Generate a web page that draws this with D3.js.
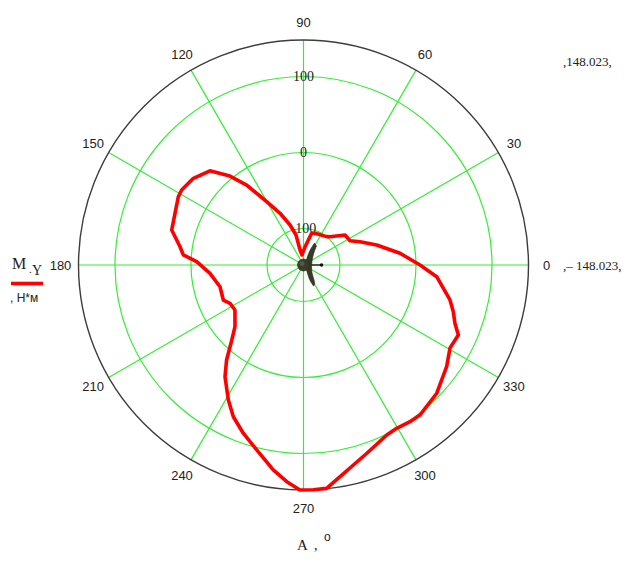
<!DOCTYPE html>
<html><head><meta charset="utf-8">
<script src="https://cdn.jsdelivr.net/npm/d3@7"></script>
<style>body{margin:0;background:#fff}svg{display:block}</style>
</head><body>
<svg id="c" width="639" height="568"></svg>
<script>
const angleDeg = [0,6.9,15.3,22.4,27.6,35.9,46.9,50.7,70,75.6,85,98.5,103,104,108.6,114.4,120.2,125.4,129.6,134.8,141.8,148.4,151.4,158.1,165.1,171.6,175.2,178.2,185.1,194.6,203.6,207.5,213.3,222,226.3,231,234.9,240.9,245.2,250.3,255.8,261.6,265.6,269.1,272.5,275.9,279.8,284,288.6,296.1,299.7,304.2,307.8,316.1,324.6,330.5,335.7,339,342.7,346.6,355,360];
const momentY  = [5.3,-20.1,-48.2,-67.6,-79,-80.6,-97,-99.8,-103.7,-104.6,-123.8,-134.7,-127.8,-107.4,-92.5,-73.3,-51.7,-19,3.8,26.7,36.4,40.2,39.6,34.2,31.4,16.2,10.7,-7.4,-24.5,-34.5,-32.9,-39,-40.1,-26.7,-11.4,12.8,31.6,55.3,72,87.1,103,124.6,137.9,148,148,147.4,134.6,123.2,113.3,101,99.4,101.3,101.9,95.3,83,73.5,75.5,65.4,58.4,50.1,27.9,5.3];
const angleTicks = [0,30,60,90,120,150,180,210,240,270,300,330];
const radialTicks = [-100,0,100];
const rMin = -148.023, rMax = 148.023;

const svg = d3.select("#c");
const cx = 303.5, cy = 265, R = 225;
const r = d3.scaleLinear().domain([rMin, rMax]).range([0, R]);
const toRad = d => (90 - d) * Math.PI / 180; // d3 radial angle
const g = svg.append("g").attr("transform", `translate(${cx},${cy})`);

// spokes
g.selectAll("line.spoke").data(angleTicks).join("line")
  .attr("x1", 0).attr("y1", 0)
  .attr("x2", d => R * Math.cos(d * Math.PI / 180))
  .attr("y2", d => -R * Math.sin(d * Math.PI / 180))
  .attr("stroke", "#33ee33").attr("stroke-width", 1.2);
// grid circles
g.selectAll("circle.grid").data(radialTicks).join("circle")
  .attr("r", d => r(d)).attr("fill", "none").attr("stroke", "#33ee33").attr("stroke-width", 1.2);
// outer circle
g.append("circle").attr("r", r(rMax)).attr("fill", "none").attr("stroke", "#3c3c3c").attr("stroke-width", 1.4);

// radial labels
g.selectAll("text.rl").data(radialTicks).join("text")
  .attr("x", 0).attr("y", d => -r(d))
  .attr("dy", "0.35em")
  .attr("text-anchor", "middle")
  .attr("font-family", "Liberation Serif, serif").attr("font-size", 14).attr("fill", "#222")
  .text(d => d);

// angle labels
g.selectAll("text.al").data(angleTicks).join("text")
  .attr("x", d => 243 * Math.cos(d * Math.PI / 180))
  .attr("y", d => -243 * Math.sin(d * Math.PI / 180))
  .attr("dy", "0.35em")
  .attr("text-anchor", "middle")
  .attr("font-family", "Liberation Sans, Arial, sans-serif").attr("font-size", 13).attr("fill", "#222")
  .text(d => d);

// data curve
const pts = angleDeg.map((a, i) => [toRad(a), r(momentY[i])]);
g.append("path").datum(pts)
  .attr("d", d3.lineRadial().angle(d => d[0]).radius(d => d[1]))
  .attr("fill", "none").attr("stroke", "#ff0000").attr("stroke-width", 3.6).attr("stroke-linejoin", "round");

// center aircraft icon
g.append("line").attr("x1", 0).attr("y1", 0).attr("x2", 17).attr("y2", 0).attr("stroke", "#111").attr("stroke-width", 1.3);
g.append("circle").attr("cx", 18).attr("cy", 0).attr("r", 1.8).attr("fill", "#111");
g.append("path").attr("d", "M11,-22 C4,-12 2,-4 3,3 C4,10 6,16 10,21 C12,20 11,16 9,10 C7,3 8,-8 13,-19 Z")
  .attr("fill", "#3a3a25").attr("stroke", "#222").attr("stroke-width", 0.6);
g.append("circle").attr("r", 6).attr("fill", "#3b3b2b").attr("stroke", "#222").attr("stroke-width", 0.6);
g.append("circle").attr("cx", -1.5).attr("cy", -1.5).attr("r", 2.5).attr("fill", "#6a6a50").attr("opacity", 0.6);

// right limit labels
svg.append("text").attr("x", 563).attr("y", 66)
  .attr("font-family", "Liberation Serif, serif").attr("font-size", 13).attr("fill", "#222").text(",148.023,");
svg.append("text").attr("x", 563).attr("y", 270)
  .attr("font-family", "Liberation Serif, serif").attr("font-size", 13).attr("fill", "#222").text(",– 148.023,");

// legend
svg.append("text").attr("x", 12).attr("y", 269).attr("font-family", "Liberation Serif, serif").attr("font-size", 16).attr("fill", "#222").text("M");
svg.append("text").attr("x", 29).attr("y", 273).attr("font-family", "Liberation Serif, serif").attr("font-size", 11).attr("fill", "#222").text(".");
svg.append("text").attr("x", 32).attr("y", 275).attr("font-family", "Liberation Serif, serif").attr("font-size", 14).attr("fill", "#222").text("Y");
svg.append("line").attr("x1", 11).attr("x2", 43).attr("y1", 283.5).attr("y2", 283.5).attr("stroke", "#ff0000").attr("stroke-width", 3.6);
svg.append("text").attr("x", 10).attr("y", 302).attr("font-family", "Liberation Sans, Arial, sans-serif").attr("font-size", 12).attr("fill", "#222").text(", Н*м");

// bottom axis label
svg.append("text").attr("x", 297).attr("y", 550).attr("font-family", "Liberation Serif, serif").attr("font-size", 15).attr("fill", "#222").text("A");
svg.append("text").attr("x", 314).attr("y", 550).attr("font-family", "Liberation Serif, serif").attr("font-size", 14).attr("fill", "#222").text(",");
svg.append("text").attr("x", 324).attr("y", 541).attr("font-family", "Liberation Sans, sans-serif").attr("font-size", 12).attr("fill", "#222").text("o");
</script>
</body></html>
